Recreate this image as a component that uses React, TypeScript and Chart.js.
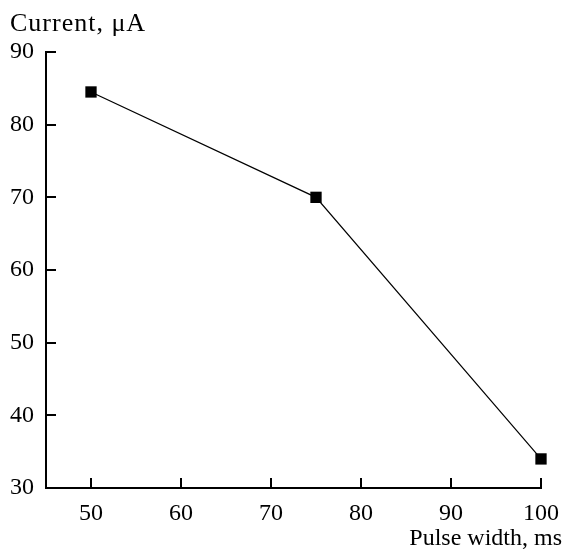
import React, { useEffect, useRef } from "react";
import { Chart, registerables } from "chart.js";

Chart.register(...registerables);

const pulseWidths = [50, 75, 100];
const currents = [84.5, 70, 34];
const xTicks = [50, 60, 70, 80, 90, 100];
const yTicks = [30, 40, 50, 60, 70, 80, 90];
const yTitle = "Current, μA";
const xTitle = "Pulse width, ms";

const FONT = "'Liberation Serif', 'Times New Roman', serif";

const inwardTicks = {
  id: "inwardTicks",
  afterDraw(chart: any) {
    const { ctx, chartArea, scales } = chart;
    const xs = scales.x;
    const ys = scales.y;
    ctx.save();
    ctx.strokeStyle = "#000";
    ctx.lineWidth = 2;
    ctx.beginPath();
    for (const v of yTicks) {
      const py = Math.round(ys.getPixelForValue(v));
      ctx.moveTo(chartArea.left, py);
      ctx.lineTo(chartArea.left + 10, py);
    }
    for (const v of xTicks) {
      const px = Math.round(xs.getPixelForValue(v));
      ctx.moveTo(px, chartArea.bottom);
      ctx.lineTo(px, chartArea.bottom - 10);
    }
    ctx.stroke();
    ctx.fillStyle = "#000";
    ctx.textBaseline = "alphabetic";
    ctx.font = `26px ${FONT}`;
    ctx.textAlign = "left";
    try { (ctx as any).letterSpacing = "1px"; } catch (e) {}
    ctx.fillText(yTitle, 10, 31);
    try { (ctx as any).letterSpacing = "0px"; } catch (e) {}
    ctx.font = `24px ${FONT}`;
    ctx.textAlign = "right";
    ctx.fillText(xTitle, chart.width - 1, 545);
    ctx.restore();
  },
};

export default function App() {
  const ref = useRef<HTMLCanvasElement | null>(null);
  useEffect(() => {
    if (!ref.current) return;
    const chart = new Chart(ref.current, {
      type: "line",
      data: {
        datasets: [
          {
            data: pulseWidths.map((x, i) => ({ x, y: currents[i] })),
            borderColor: "#000",
            borderWidth: 1.2,
            backgroundColor: "#000",
            pointStyle: "rect",
            pointRadius: 8,
            pointBorderWidth: 0,
            pointBackgroundColor: "#000",
            tension: 0,
            clip: false as any,
          },
        ],
      },
      options: {
        animation: false,
        responsive: false,
        maintainAspectRatio: false,
        layout: { padding: { left: 10, right: 22, top: 52, bottom: 0 } },
        plugins: {
          legend: { display: false },
          tooltip: { enabled: false },
          title: { display: false },
        },
        scales: {
          x: {
            type: "linear",
            min: 45,
            max: 100,
            afterBuildTicks: (s: any) => {
              s.ticks = xTicks.map((v) => ({ value: v }));
            },
            afterFit: (s: any) => {
              s.height = 66;
              s.paddingLeft = 0;
              s.paddingRight = 0;
              s.paddingTop = 0;
              s.paddingBottom = 0;
            },
            grid: { drawOnChartArea: false, drawTicks: false },
            border: { display: true, color: "#000", width: 2 },
            ticks: {
              color: "#000",
              font: { family: FONT, size: 24 },
              padding: 11,
              maxRotation: 0,
              autoSkip: false,
            },
          },
          y: {
            type: "linear",
            min: 30,
            max: 90,
            afterBuildTicks: (s: any) => {
              s.ticks = yTicks.map((v) => ({ value: v }));
            },
            afterFit: (s: any) => {
              s.width = 36;
              s.paddingLeft = 0;
              s.paddingRight = 0;
              s.paddingTop = 0;
              s.paddingBottom = 0;
            },
            grid: { drawOnChartArea: false, drawTicks: false },
            border: { display: true, color: "#000", width: 2 },
            ticks: {
              color: "#000",
              font: { family: FONT, size: 24 },
              padding: 12,
              autoSkip: false,
            },
          },
        },
      },
      plugins: [inwardTicks],
    });
    return () => chart.destroy();
  }, []);
  return (
    <div style={{ position: "absolute", left: 0, top: 0, width: 563, height: 554, background: "#fff" }}>
      <canvas ref={ref} width={563} height={554} style={{ width: 563, height: 554 }} />
    </div>
  );
}
